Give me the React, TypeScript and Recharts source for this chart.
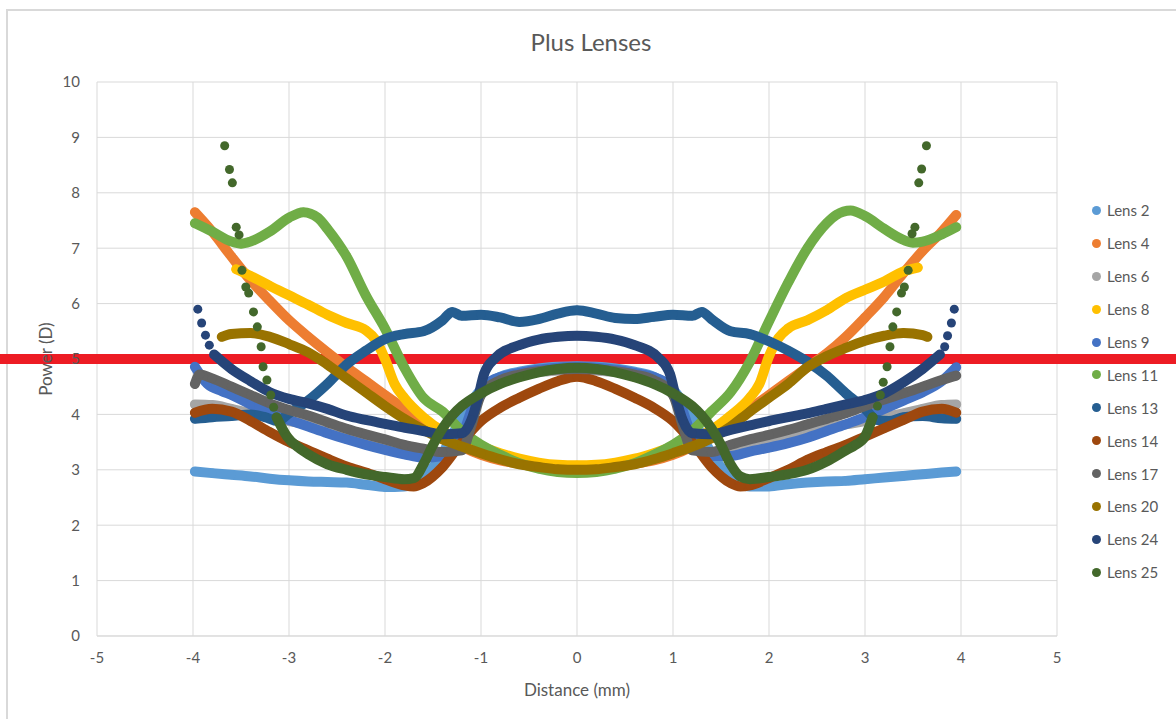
import { ScatterChart, Scatter, XAxis, YAxis, ZAxis, CartesianGrid, ReferenceLine } from 'recharts'

type Pt = [number, number] // [distance mm, power D]

const xTicks = [-5, -4, -3, -2, -1, 0, 1, 2, 3, 4, 5]
const yTicks = [0, 1, 2, 3, 4, 5, 6, 7, 8, 9, 10]
const powerLimit = 5

const lens2: Pt[] = [
  [-3.98, 2.97], [-3.8, 2.94], [-3.6, 2.91], [-3.4, 2.88], [-3.2, 2.84], [-3, 2.81], [-2.8, 2.79], [-2.6, 2.78],
  [-2.4, 2.77], [-2.2, 2.73], [-2, 2.69], [-1.8, 2.7], [-1.6, 2.85], [-1.4, 3.3], [-1.2, 3.95], [-1, 4.45],
  [-0.8, 4.68], [-0.6, 4.77], [-0.4, 4.83], [-0.2, 4.86], [0, 4.87], [0.2, 4.86], [0.4, 4.83], [0.6, 4.77],
  [0.8, 4.68], [1, 4.45], [1.2, 3.95], [1.4, 3.3], [1.6, 2.85], [1.8, 2.7], [2, 2.7], [2.2, 2.74], [2.4, 2.77],
  [2.6, 2.79], [2.8, 2.8], [3, 2.83], [3.2, 2.86], [3.4, 2.89], [3.6, 2.92], [3.8, 2.95], [3.95, 2.97],
]
const lens4: Pt[] = [
  [-3.98, 7.65], [-3.8, 7.3], [-3.6, 6.85], [-3.4, 6.42], [-3.2, 6.05], [-3, 5.7], [-2.8, 5.4], [-2.6, 5.12],
  [-2.4, 4.85], [-2.2, 4.6], [-2, 4.35], [-1.8, 4.1], [-1.6, 3.85], [-1.4, 3.62], [-1.2, 3.42], [-1, 3.27],
  [-0.8, 3.17], [-0.6, 3.11], [-0.4, 3.07], [-0.2, 3.05], [0, 3.05], [0.2, 3.05], [0.4, 3.07], [0.6, 3.11],
  [0.8, 3.17], [1, 3.27], [1.2, 3.42], [1.4, 3.62], [1.6, 3.85], [1.8, 4.1], [2, 4.35], [2.2, 4.6], [2.4, 4.85],
  [2.6, 5.1], [2.8, 5.4], [3, 5.75], [3.2, 6.12], [3.4, 6.55], [3.6, 6.95], [3.8, 7.3], [3.95, 7.6],
]
const lens6: Pt[] = [
  [-3.98, 4.18], [-3.8, 4.17], [-3.6, 4.1], [-3.4, 4.02], [-3.2, 3.95], [-3, 3.88], [-2.8, 3.82], [-2.6, 3.75],
  [-2.4, 3.68], [-2.2, 3.6], [-2, 3.52], [-1.8, 3.44], [-1.6, 3.36], [-1.4, 3.3], [-1.2, 3.5], [-1.05, 4.2],
  [-0.9, 4.55], [-0.6, 4.72], [-0.3, 4.78], [0, 4.8], [0.3, 4.78], [0.6, 4.72], [0.9, 4.55], [1.05, 4.2],
  [1.2, 3.5], [1.4, 3.3], [1.6, 3.36], [1.8, 3.44], [2, 3.52], [2.2, 3.6], [2.4, 3.68], [2.6, 3.75], [2.8, 3.82],
  [3, 3.88], [3.2, 3.95], [3.4, 4.02], [3.6, 4.1], [3.8, 4.17], [3.95, 4.18],
]
const lens8: Pt[] = [
  [-3.55, 6.62], [-3.4, 6.5], [-3.2, 6.32], [-3, 6.15], [-2.8, 5.98], [-2.6, 5.8], [-2.4, 5.65], [-2.2, 5.52],
  [-2.1, 5.35], [-2, 5.0], [-1.9, 4.55], [-1.8, 4.3], [-1.6, 3.95], [-1.4, 3.7], [-1.2, 3.55], [-1, 3.42],
  [-0.8, 3.3], [-0.6, 3.2], [-0.4, 3.13], [-0.2, 3.09], [0, 3.08], [0.2, 3.09], [0.4, 3.13], [0.6, 3.2],
  [0.8, 3.3], [1, 3.42], [1.2, 3.55], [1.4, 3.72], [1.6, 3.98], [1.8, 4.3], [1.9, 4.55], [2, 5.05], [2.1, 5.38],
  [2.2, 5.55], [2.4, 5.7], [2.6, 5.88], [2.8, 6.1], [3, 6.25], [3.2, 6.4], [3.4, 6.58], [3.55, 6.65],
]
const lens9: Pt[] = [
  [-3.98, 4.86], [-3.85, 4.55], [-3.7, 4.42], [-3.6, 4.35], [-3.4, 4.18], [-3.2, 4.02], [-3, 3.9], [-2.8, 3.78],
  [-2.6, 3.66], [-2.4, 3.55], [-2.2, 3.45], [-2, 3.36], [-1.8, 3.28], [-1.6, 3.22], [-1.4, 3.25], [-1.2, 3.6],
  [-1.05, 4.3], [-0.9, 4.6], [-0.6, 4.75], [-0.3, 4.83], [0, 4.86], [0.3, 4.83], [0.6, 4.75], [0.9, 4.6],
  [1.05, 4.3], [1.2, 3.6], [1.4, 3.25], [1.6, 3.25], [1.8, 3.33], [2, 3.4], [2.2, 3.48], [2.4, 3.58], [2.6, 3.7],
  [2.8, 3.82], [3, 3.95], [3.2, 4.1], [3.4, 4.25], [3.6, 4.4], [3.8, 4.6], [3.95, 4.85],
]
const lens11: Pt[] = [
  [-3.98, 7.45], [-3.8, 7.3], [-3.6, 7.12], [-3.5, 7.08], [-3.4, 7.12], [-3.2, 7.3], [-3, 7.55], [-2.85, 7.65],
  [-2.7, 7.55], [-2.6, 7.35], [-2.4, 6.85], [-2.2, 6.15], [-2, 5.55], [-1.8, 4.85], [-1.6, 4.3], [-1.4, 4.05],
  [-1.2, 3.7], [-1, 3.45], [-0.8, 3.27], [-0.6, 3.12], [-0.4, 3.02], [-0.2, 2.96], [0, 2.94], [0.2, 2.96],
  [0.4, 3.02], [0.6, 3.12], [0.8, 3.27], [1, 3.45], [1.2, 3.7], [1.4, 4.05], [1.6, 4.4], [1.8, 4.95], [2, 5.68],
  [2.2, 6.38], [2.4, 7.0], [2.6, 7.45], [2.7, 7.6], [2.85, 7.68], [3, 7.58], [3.2, 7.35], [3.4, 7.15], [3.5, 7.1],
  [3.6, 7.12], [3.8, 7.25], [3.95, 7.38],
]
const lens13: Pt[] = [
  [-3.98, 3.92], [-3.8, 3.95], [-3.6, 3.97], [-3.4, 4.0], [-3.25, 3.95], [-3.12, 3.88], [-3, 4.02], [-2.8, 4.25],
  [-2.6, 4.55], [-2.4, 4.9], [-2.2, 5.15], [-2, 5.36], [-1.8, 5.45], [-1.6, 5.5], [-1.4, 5.7], [-1.3, 5.85],
  [-1.2, 5.78], [-1, 5.8], [-0.8, 5.75], [-0.6, 5.67], [-0.4, 5.72], [-0.2, 5.82], [0, 5.88], [0.2, 5.82],
  [0.4, 5.74], [0.6, 5.72], [0.8, 5.76], [1, 5.8], [1.2, 5.78], [1.3, 5.85], [1.4, 5.72], [1.6, 5.5], [1.8, 5.45],
  [2, 5.32], [2.2, 5.15], [2.4, 4.95], [2.6, 4.7], [2.8, 4.38], [3, 4.1], [3.12, 3.9], [3.25, 3.88], [3.4, 3.95],
  [3.6, 3.97], [3.8, 3.93], [3.95, 3.92],
]
const lens14: Pt[] = [
  [-3.98, 4.03], [-3.8, 4.1], [-3.6, 4.05], [-3.4, 3.88], [-3.2, 3.68], [-3, 3.5], [-2.8, 3.35], [-2.6, 3.2],
  [-2.4, 3.06], [-2.2, 2.95], [-2, 2.83], [-1.8, 2.72], [-1.7, 2.7], [-1.6, 2.76], [-1.4, 3.05], [-1.2, 3.5],
  [-1, 3.88], [-0.8, 4.12], [-0.6, 4.3], [-0.4, 4.46], [-0.2, 4.6], [0, 4.68], [0.2, 4.6], [0.4, 4.46],
  [0.6, 4.3], [0.8, 4.12], [1, 3.88], [1.2, 3.5], [1.4, 3.05], [1.6, 2.76], [1.7, 2.7], [1.8, 2.72], [2, 2.85],
  [2.2, 3.0], [2.4, 3.18], [2.6, 3.32], [2.8, 3.45], [3, 3.6], [3.2, 3.75], [3.4, 3.9], [3.6, 4.05], [3.8, 4.1],
  [3.95, 4.03],
]
const lens17: Pt[] = [
  [-3.98, 4.55], [-3.93, 4.72], [-3.8, 4.65], [-3.6, 4.5], [-3.4, 4.35], [-3.2, 4.2], [-3, 4.08], [-2.8, 3.98],
  [-2.6, 3.86], [-2.4, 3.74], [-2.2, 3.64], [-2, 3.55], [-1.8, 3.45], [-1.6, 3.38], [-1.4, 3.32], [-1.2, 3.35],
  [-1.1, 3.8], [-1, 4.35], [-0.8, 4.62], [-0.6, 4.72], [-0.4, 4.78], [-0.2, 4.81], [0, 4.82], [0.2, 4.81],
  [0.4, 4.78], [0.6, 4.72], [0.8, 4.62], [1, 4.35], [1.1, 3.8], [1.2, 3.35], [1.4, 3.32], [1.6, 3.45],
  [1.8, 3.55], [2, 3.63], [2.2, 3.72], [2.4, 3.82], [2.6, 3.92], [2.8, 4.02], [3, 4.15], [3.2, 4.27],
  [3.4, 4.38], [3.6, 4.5], [3.8, 4.62], [3.95, 4.7],
]
const lens20: Pt[] = [
  [-3.7, 5.4], [-3.6, 5.45], [-3.4, 5.47], [-3.2, 5.4], [-3, 5.27], [-2.8, 5.12], [-2.6, 4.9], [-2.4, 4.65],
  [-2.2, 4.4], [-2, 4.15], [-1.8, 3.92], [-1.6, 3.72], [-1.4, 3.55], [-1.2, 3.42], [-1, 3.3], [-0.8, 3.19],
  [-0.6, 3.1], [-0.4, 3.05], [-0.2, 3.01], [0, 3.0], [0.2, 3.01], [0.4, 3.05], [0.6, 3.1], [0.8, 3.19], [1, 3.3],
  [1.2, 3.42], [1.4, 3.57], [1.6, 3.78], [1.8, 4.05], [2, 4.3], [2.2, 4.55], [2.4, 4.85], [2.6, 5.05], [2.8, 5.2],
  [3, 5.33], [3.2, 5.42], [3.4, 5.47], [3.6, 5.43], [3.65, 5.4],
]
const lens24: Pt[] = [
  [-3.78, 5.08], [-3.6, 4.82], [-3.4, 4.6], [-3.2, 4.4], [-3, 4.28], [-2.8, 4.2], [-2.6, 4.1], [-2.4, 3.98],
  [-2.2, 3.9], [-2, 3.83], [-1.8, 3.76], [-1.6, 3.7], [-1.4, 3.64], [-1.2, 3.66], [-1.1, 3.9], [-1.03, 4.3],
  [-0.97, 4.72], [-0.85, 5.02], [-0.6, 5.25], [-0.4, 5.35], [-0.2, 5.4], [0, 5.42], [0.2, 5.4], [0.4, 5.35],
  [0.6, 5.25], [0.85, 5.02], [0.97, 4.72], [1.03, 4.3], [1.1, 3.9], [1.2, 3.66], [1.4, 3.64], [1.6, 3.72],
  [1.8, 3.8], [2, 3.88], [2.2, 3.95], [2.4, 4.02], [2.6, 4.1], [2.8, 4.18], [3, 4.26], [3.2, 4.38], [3.4, 4.58],
  [3.6, 4.82], [3.78, 5.08],
]
// sparse points at the lens edges (drawn as loose dots)
const lens24Ends: Pt[] = [
  [-3.95, 5.9], [-3.91, 5.65], [-3.87, 5.43], [-3.83, 5.25], [3.83, 5.22], [3.86, 5.42], [3.9, 5.65], [3.93, 5.9],
]
const lens25: Pt[] = [
  [-3.13, 3.95], [-3.02, 3.6], [-2.9, 3.4], [-2.8, 3.28], [-2.6, 3.1], [-2.4, 3.0], [-2.2, 2.92], [-2, 2.87],
  [-1.8, 2.83], [-1.7, 2.85], [-1.6, 3.1], [-1.5, 3.45], [-1.4, 3.75], [-1.3, 3.98], [-1.2, 4.15], [-1, 4.38],
  [-0.8, 4.55], [-0.6, 4.67], [-0.4, 4.76], [-0.2, 4.82], [0, 4.84], [0.2, 4.82], [0.4, 4.76], [0.6, 4.67],
  [0.8, 4.55], [1, 4.38], [1.2, 4.15], [1.3, 3.98], [1.4, 3.75], [1.5, 3.45], [1.6, 3.1], [1.7, 2.88],
  [1.8, 2.83], [2, 2.87], [2.2, 2.92], [2.4, 3.0], [2.6, 3.15], [2.8, 3.35], [2.9, 3.45], [3, 3.6], [3.08, 3.95],
]
const lens25Ends: Pt[] = [
  [-3.67, 8.85], [-3.62, 8.42], [-3.59, 8.18], [-3.55, 7.38], [-3.52, 7.24], [-3.49, 6.6], [-3.45, 6.3],
  [-3.42, 6.19], [-3.37, 5.85], [-3.33, 5.58], [-3.29, 5.22], [-3.27, 4.86], [-3.23, 4.62], [-3.19, 4.35],
  [-3.16, 4.13], [3.13, 4.15], [3.16, 4.35], [3.19, 4.58], [3.23, 4.86], [3.26, 5.22], [3.29, 5.58],
  [3.33, 5.85], [3.38, 6.19], [3.41, 6.3], [3.45, 6.6], [3.49, 7.26], [3.52, 7.38], [3.56, 8.18], [3.59, 8.43],
  [3.64, 8.85],
]

const series: { name: string; color: string; points: Pt[]; ends?: Pt[] }[] = [
  { name: 'Lens 2', color: '#5B9BD5', points: lens2 },
  { name: 'Lens 4', color: '#ED7D31', points: lens4 },
  { name: 'Lens 6', color: '#A5A5A5', points: lens6 },
  { name: 'Lens 8', color: '#FFC000', points: lens8 },
  { name: 'Lens 9', color: '#4472C4', points: lens9 },
  { name: 'Lens 11', color: '#70AD47', points: lens11 },
  { name: 'Lens 13', color: '#255E91', points: lens13 },
  { name: 'Lens 14', color: '#9E480E', points: lens14 },
  { name: 'Lens 17', color: '#636363', points: lens17 },
  { name: 'Lens 20', color: '#997300', points: lens20 },
  { name: 'Lens 24', color: '#264478', points: lens24, ends: lens24Ends },
  { name: 'Lens 25', color: '#43682B', points: lens25, ends: lens25Ends },
]

const FONT = 'Lato, "Open Sans", sans-serif'
const TEXT = '#595959'
const GRID = '#d9d9d9'

const toRows = (pts: Pt[]) => pts.map(([x, y]) => ({ x, y }))

// eslint-disable-next-line @typescript-eslint/no-explicit-any
function YTitle(props: any) {
  const vb = props.viewBox || { x: 37, y: 82, width: 60, height: 554 }
  const cx = vb.x + 8
  const cy = vb.y + vb.height / 2
  return (
    <text x={cx} y={cy} transform={`rotate(-90 ${cx} ${cy})`} textAnchor="middle" dominantBaseline="central" fill={TEXT} fontSize={17}>
      Power (D)
    </text>
  )
}

export default function App() {
  return (
    <div style={{ position: 'absolute', left: 0, top: 0, width: 1176, height: 719, background: '#fff', overflow: 'hidden', fontFamily: FONT }}>
      {/* chart frame */}
      <div style={{ position: 'absolute', left: 6, top: 9, right: -4, bottom: -4, borderTop: `2px solid ${GRID}`, borderLeft: `2px solid ${GRID}` }} />

      <div style={{ position: 'absolute', left: 6, top: 27, width: 1170, textAlign: 'center', fontSize: 24, color: TEXT }}>
        Plus Lenses
      </div>

      <div style={{ position: 'absolute', left: 0, top: 0 }}>
        <ScatterChart width={1176} height={719} margin={{ top: 82, right: 119, bottom: 23, left: 37 }}>
          <CartesianGrid stroke={GRID} strokeWidth={1} />
          <XAxis
            type="number"
            dataKey="x"
            domain={[-5, 5]}
            ticks={xTicks}
            height={60}
            stroke={GRID}
            tickLine={false}
            tickSize={0}
            tickMargin={16}
            tick={{ fill: TEXT, fontSize: 15 }}
            label={{ value: 'Distance (mm)', position: 'insideBottom', offset: 0, fill: TEXT, fontSize: 17 }}
          />
          <YAxis
            type="number"
            dataKey="y"
            domain={[0, 10]}
            ticks={yTicks}
            width={60}
            axisLine={false}
            tickLine={false}
            tickSize={0}
            tickMargin={17}
            tick={{ fill: TEXT, fontSize: 15 }}
            label={{ content: YTitle }}
          />
          <ZAxis range={[80, 80]} />
          {series.flatMap((s) => {
            const out = [
              <Scatter
                key={s.name}
                name={s.name}
                data={toRows(s.points)}
                fill={s.color}
                shape="circle"
                line={{ stroke: s.color, strokeWidth: 10, strokeLinecap: 'round', strokeLinejoin: 'round' }}
                lineType="joint"
                lineJointType="monotoneX"
                isAnimationActive={false}
              />,
            ]
            if (s.ends) {
              out.push(
                <Scatter
                  key={s.name + '-ends'}
                  name={s.name}
                  legendType="none"
                  data={toRows(s.ends)}
                  fill={s.color}
                  shape="circle"
                  isAnimationActive={false}
                />
              )
            }
            return out
          })}
          <ReferenceLine
            y={powerLimit}
            ifOverflow="visible"
            // eslint-disable-next-line @typescript-eslint/no-explicit-any
            shape={((p: any) => <line x1={0} x2={1176} y1={p.y1} y2={p.y2} stroke="#ED1C24" strokeWidth={10} />) as any}
          />
        </ScatterChart>
      </div>

      {/* Legend */}
      <div style={{ position: 'absolute', left: 1090, top: 194 }}>
        {series.map((s) => (
          <div key={s.name} style={{ display: 'flex', alignItems: 'center', height: 32.9, fontSize: 15, color: TEXT }}>
            <span style={{ width: 9, height: 9, borderRadius: '50%', background: s.color, marginRight: 6, marginLeft: 2 }} />
            {s.name}
          </div>
        ))}
      </div>
    </div>
  )
}
